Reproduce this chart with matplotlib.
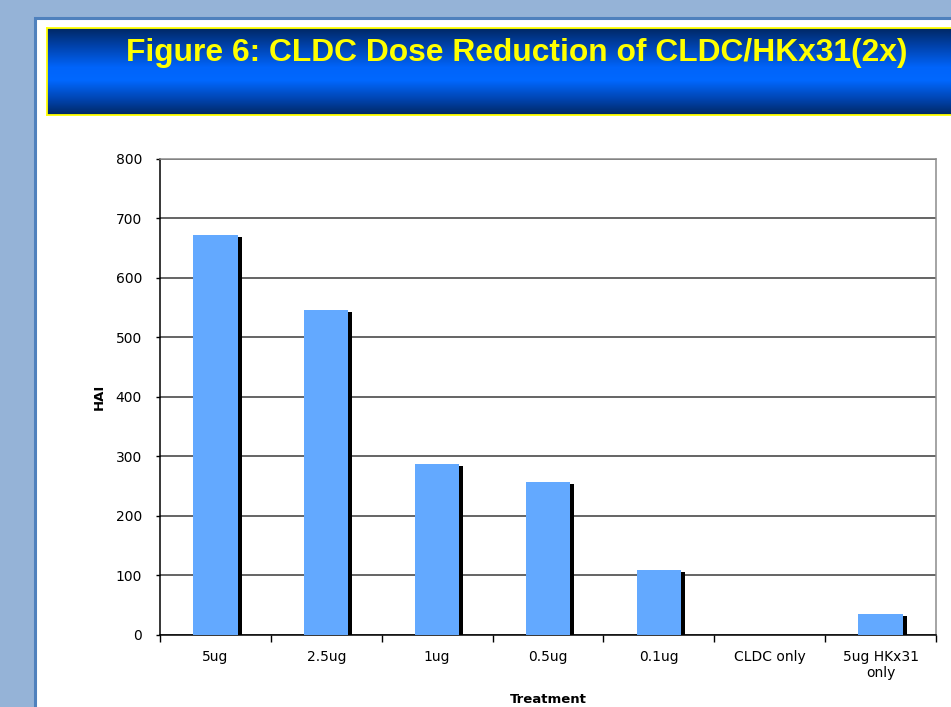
import numpy as np
import matplotlib
matplotlib.use("Agg")
import matplotlib.pyplot as plt
import matplotlib.patches as patches
import matplotlib.patheffects as pe
from matplotlib.colors import LinearSegmentedColormap

# Data
treatments = ["5ug", "2.5ug", "1ug", "0.5ug", "0.1ug", "CLDC only", "5ug HKx31\nonly"]
hai_values = [672, 545, 287, 256, 109, 0, 35]
y_ticks = [0, 100, 200, 300, 400, 500, 600, 700, 800]

W, H = 951, 707
fig = plt.figure(figsize=(W / 100, H / 100), dpi=100, facecolor="#95B3D7")


def px_rect(x0, y0, x1, y1):
    # pixel box (top-left origin) -> figure fraction rectangle
    return (x0 / W, 1 - y1 / H, (x1 - x0) / W, (y1 - y0) / H)


# White slide panel with blue edge
px0, py0 = 35, 18
panel = patches.Rectangle((px0 / W, 1 - (H + 5) / H), (W + 5 - px0) / W, (H + 5 - py0) / H,
                          transform=fig.transFigure, facecolor="white",
                          edgecolor="#4F81BD", linewidth=2.2, zorder=-10)
fig.patches.append(panel)

# Gradient title banner
bx0, by0, bx1, by1 = 47, 28, W + 2, 115
ax_ban = fig.add_axes(px_rect(bx0, by0, bx1, by1))
cmap = LinearSegmentedColormap.from_list(
    "banner", [(0.0, "#002864"), (0.22, "#0044B0"), (0.45, "#0064FA"), (0.60, "#0068FF"),
               (0.82, "#0044B0"), (1.0, "#002864")])
grad = np.linspace(0, 1, 256).reshape(-1, 1)
ax_ban.imshow(grad, aspect="auto", cmap=cmap, extent=(0, 1, 1, 0))
ax_ban.set_xlim(0, 1)
ax_ban.set_ylim(1, 0)
ax_ban.set_xticks([])
ax_ban.set_yticks([])
for s in ax_ban.spines.values():
    s.set_color("#FFFF00")
    s.set_linewidth(1.3)
ax_ban.spines["right"].set_visible(False)
ax_ban.text((517 - bx0) / (bx1 - bx0), 1 - (53 - by0) / (by1 - by0),
            "Figure 6: CLDC Dose Reduction of CLDC/HKx31(2x)",
            color="#FFFF00", fontsize=22.9, fontweight="bold",
            family="Liberation Sans", ha="center", va="center",
            transform=ax_ban.transAxes)

# Bar chart
ax = fig.add_axes(px_rect(160, 158.5, 936, 634.7))
x = np.arange(len(treatments))
ax.bar(x, hai_values, width=0.40, color="#63A9FF", zorder=3,
       path_effects=[pe.SimplePatchShadow(offset=(2.9, -1.45), shadow_rgbFace="black", alpha=1.0),
                     pe.Normal()])

ax.set_xlim(-0.5, len(treatments) - 0.5)
ax.set_ylim(0, 800)
ax.set_yticks(y_ticks)
ax.set_yticklabels([str(v) for v in y_ticks], fontsize=10, family="DejaVu Sans")
ax.yaxis.grid(True, color="#3A3A3A", linewidth=1.1, zorder=1)
ax.set_axisbelow(True)

ax.set_xticks(x)
ax.set_xticklabels(treatments, fontsize=10, family="DejaVu Sans")
ax.set_xticks(np.arange(len(treatments) + 1) - 0.5, minor=True)
ax.tick_params(axis="x", which="major", length=0, pad=11)
ax.tick_params(axis="x", which="minor", length=5, width=1, color="black", direction="out")
ax.tick_params(axis="y", length=3, width=1, color="black", pad=10)

for side in ("left", "bottom"):
    ax.spines[side].set_color("black")
    ax.spines[side].set_linewidth(1.1)
for side in ("top", "right"):
    ax.spines[side].set_color("#8C8C8C")
    ax.spines[side].set_linewidth(1.1)

ax.set_ylabel("HAI", fontsize=9.5, fontweight="bold", labelpad=7)
ax.set_xlabel("Treatment", fontsize=9.5, fontweight="bold", labelpad=9)

fig.savefig("out.png", dpi=100, facecolor=fig.get_facecolor())
